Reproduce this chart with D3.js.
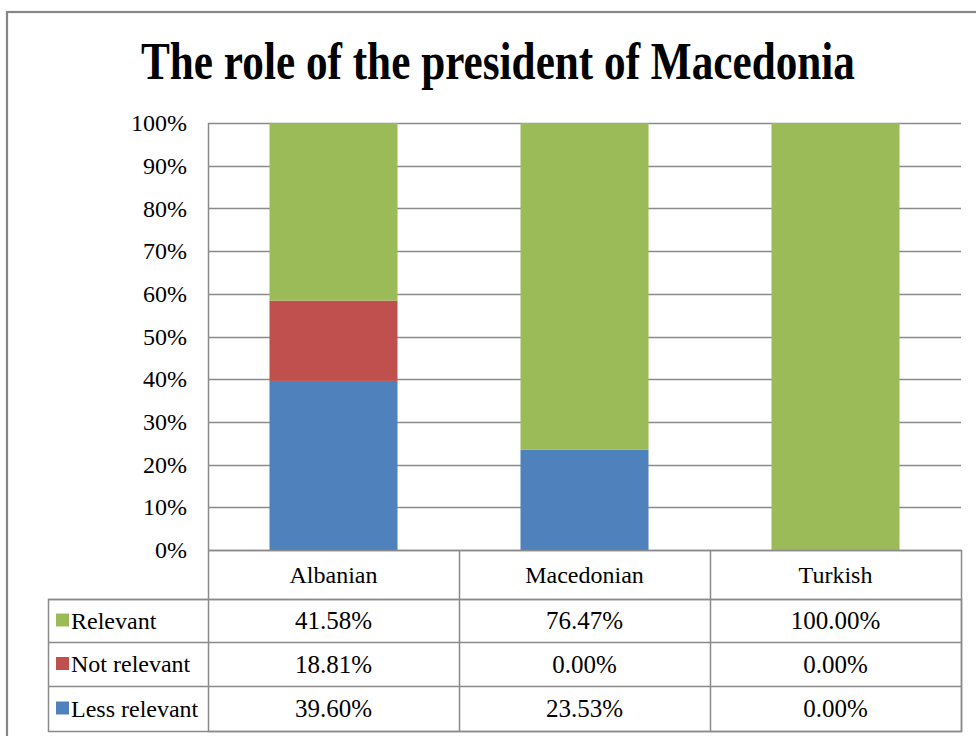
<!DOCTYPE html>
<html>
<head>
<meta charset="utf-8">
<script src="https://cdn.jsdelivr.net/npm/d3@7"></script>
<style>
  html, body { margin: 0; padding: 0; background: #fff; }
</style>
</head>
<body>
<svg id="chart" width="976" height="736"></svg>
<script>
// Survey answers by ethnic group (percent)
const categories = ["Albanian", "Macedonian", "Turkish"];
const seriesNames = ["Relevant", "Not relevant", "Less relevant"];
const relevant = [41.58, 76.47, 100.00];
const notRelevant = [18.81, 0.00, 0.00];
const lessRelevant = [39.60, 23.53, 0.00];
const yTicks = [0, 10, 20, 30, 40, 50, 60, 70, 80, 90, 100];
const titleText = "The role of the president of Macedonia";

const colors = { "Relevant": "#9BBB59", "Not relevant": "#C0504D", "Less relevant": "#4F81BD" };
const seriesValues = { "Relevant": relevant, "Not relevant": notRelevant, "Less relevant": lessRelevant };
const gridColor = "#8a8a8a";
const serif = "'Liberation Serif', 'Times New Roman', Tinos, serif";

const svg = d3.select("#chart");

// Outer frame
svg.append("rect")
  .attr("x", 7).attr("y", 12).attr("width", 1000).attr("height", 800)
  .attr("fill", "none").attr("stroke", "#868686").attr("stroke-width", 2.2);

// Title, narrowed horizontally to fit its box
const title = svg.append("text")
  .style("font-family", serif).style("font-size", "53px").style("font-weight", "bold")
  .attr("x", 0).attr("y", 0)
  .text(titleText);
const natural = title.node().getComputedTextLength();
const titleW = 714;
title.attr("transform", `translate(141,79) scale(${titleW / natural},1)`);

const plot = { left: 208, right: 961, top: 123, bottom: 550 };

const x = d3.scaleBand().domain(categories)
  .range([plot.left, plot.right]).paddingInner(0.49).paddingOuter(0.245);
const y = d3.scaleLinear().domain([0, 100]).range([plot.bottom, plot.top]);

// Gridlines
svg.append("g").selectAll("line").data(yTicks).join("line")
  .attr("x1", plot.left).attr("x2", plot.right)
  .attr("y1", d => Math.round(y(d)) + 0.5).attr("y2", d => Math.round(y(d)) + 0.5)
  .attr("stroke", gridColor).attr("stroke-width", 1.3);

// Stacked bars: Less relevant at the bottom, then Not relevant, then Relevant
const stackData = categories.map((c, i) => ({
  category: c,
  "Less relevant": lessRelevant[i],
  "Not relevant": notRelevant[i],
  "Relevant": relevant[i]
}));
const layers = d3.stack().keys(["Less relevant", "Not relevant", "Relevant"])(stackData);

svg.append("g").selectAll("g").data(layers).join("g")
  .attr("fill", d => colors[d.key])
  .selectAll("rect").data(d => d).join("rect")
  .attr("x", d => x(d.data.category))
  .attr("width", x.bandwidth())
  .attr("y", d => y(d[1]))
  .attr("height", d => y(d[0]) - y(d[1]));

// Y axis labels
const yAxis = d3.axisLeft(y).tickValues(yTicks).tickFormat(d => d + "%").tickSize(0).tickPadding(21);
const yg = svg.append("g").attr("transform", `translate(${plot.left},0)`).call(yAxis);
yg.select(".domain").remove();
yg.attr("font-family", null).attr("font-size", null);
yg.selectAll("text")
  .style("font-family", serif).style("font-size", "24px").attr("fill", "#000").attr("dy", "0.32em");

// Vertical axis line
svg.append("line")
  .attr("x1", plot.left + 0.5).attr("x2", plot.left + 0.5)
  .attr("y1", plot.top).attr("y2", plot.bottom)
  .attr("stroke", gridColor).attr("stroke-width", 1.5);

// Data table below the plot
const table = { legendLeft: 48, headerBottom: 599, bottom: 731 };
const rowTops = [599, 642, 686];
const rowBottoms = [642, 686, 731];
const colEdges = categories.map(c => x(c) - x.step() * x.paddingOuter());

const tg = svg.append("g");
const lineAttrs = sel => sel.attr("stroke", gridColor).attr("stroke-width", 1.5);

// header row box
tg.append("rect")
  .attr("x", plot.left + 0.5).attr("y", plot.bottom + 0.5)
  .attr("width", plot.right - plot.left).attr("height", table.bottom - plot.bottom)
  .attr("fill", "none").call(lineAttrs);
// legend column box
tg.append("rect")
  .attr("x", table.legendLeft + 0.5).attr("y", table.headerBottom + 0.5)
  .attr("width", plot.right - table.legendLeft).attr("height", table.bottom - table.headerBottom)
  .attr("fill", "none").call(lineAttrs);
// horizontal row separators
tg.selectAll("line.row").data(rowTops).join("line")
  .attr("class", "row")
  .attr("x1", table.legendLeft).attr("x2", plot.right)
  .attr("y1", d => d + 0.5).attr("y2", d => d + 0.5)
  .call(lineAttrs);
// column separators
tg.selectAll("line.col").data(colEdges.slice(1)).join("line")
  .attr("class", "col")
  .attr("x1", d => Math.round(d) + 0.5).attr("x2", d => Math.round(d) + 0.5)
  .attr("y1", plot.bottom).attr("y2", table.bottom)
  .call(lineAttrs);

const cellText = (sel, size) => sel.style("font-family", serif).style("font-size", size + "px").attr("fill", "#000");

// category header labels
tg.selectAll("text.cat").data(categories).join("text")
  .attr("class", "cat")
  .attr("x", d => x(d) + x.bandwidth() / 2)
  .attr("y", (plot.bottom + table.headerBottom) / 2)
  .attr("dy", "0.35em")
  .attr("text-anchor", "middle")
  .call(cellText, 24)
  .text(d => d);

// series rows: legend key + values
seriesNames.forEach((name, r) => {
  const cy = (rowTops[r] + rowBottoms[r]) / 2;
  tg.append("rect")
    .attr("x", 56).attr("y", cy - 7).attr("width", 13).attr("height", 13)
    .attr("fill", colors[name]);
  tg.append("text")
    .attr("x", 71).attr("y", cy).attr("dy", "0.35em")
    .call(cellText, 24)
    .text(name);
  tg.selectAll(null).data(seriesValues[name]).join("text")
    .attr("x", (d, i) => x(categories[i]) + x.bandwidth() / 2)
    .attr("y", cy).attr("dy", "0.35em")
    .attr("text-anchor", "middle")
    .call(cellText, 25)
    .text(d => d.toFixed(2) + "%");
});
</script>
</body>
</html>
